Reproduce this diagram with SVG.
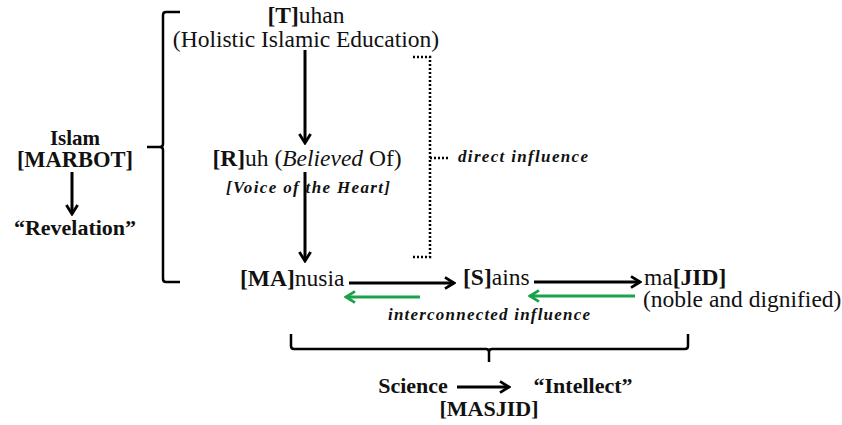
<svg xmlns="http://www.w3.org/2000/svg" width="842" height="425" viewBox="0 0 842 425">
<style>
text{fill:#111;font-family:'Liberation Serif','Times New Roman',serif;}
.n{font-size:23.5px;}
.b{font-weight:bold;}
.bi{font-weight:bold;font-style:italic;font-size:17px;}
.ln{stroke:#000;stroke-width:3;fill:none;}
.gr{stroke:#1aa34a;stroke-width:3;fill:none;}
.br{stroke:#000;stroke-width:2.5;fill:none;}
.dt{stroke:#000;stroke-width:2.5;fill:none;stroke-dasharray:2 2;}
</style>
<defs>
<marker id="ah" viewBox="0 0 12 12" refX="10" refY="6" markerWidth="4.5" markerHeight="4.5" orient="auto" markerUnits="strokeWidth">
<polyline points="2,1 10,6 2,11" fill="none" stroke="#000" stroke-width="2.5"/>
</marker>
<marker id="ag" viewBox="0 0 12 12" refX="10" refY="6" markerWidth="4.5" markerHeight="4.5" orient="auto" markerUnits="strokeWidth">
<polyline points="2,1 10,6 2,11" fill="none" stroke="#1aa34a" stroke-width="2.5"/>
</marker>
</defs>
<g id="connectors">
<line class="ln" x1="305" y1="50" x2="305" y2="143" marker-end="url(#ah)"/>
<line class="ln" x1="305" y1="172" x2="305" y2="261" marker-end="url(#ah)"/>
<line class="ln" x1="72" y1="172" x2="72" y2="214" marker-end="url(#ah)"/>
<line class="ln" x1="349" y1="283" x2="454" y2="283" marker-end="url(#ah)"/>
<line class="ln" x1="534" y1="282" x2="640" y2="282" marker-end="url(#ah)"/>
<line class="gr" x1="420" y1="297" x2="346" y2="297" marker-end="url(#ag)"/>
<line class="gr" x1="635" y1="296" x2="530" y2="296" marker-end="url(#ag)"/>
<line class="ln" x1="457" y1="387" x2="509" y2="387" marker-end="url(#ah)"/>
</g>
<g id="left-bracket">
<path class="br" d="M180,12 H166 Q163,12 163,15 V144 Q163,147 160,147 H147 M160,147 Q163,147 163,150 V279 Q163,282 166,282 H180"/>
</g>
<g id="dotted-bracket">
<path class="dt" d="M413,57 H430 V257 H413 M430,158 H448"/>
</g>
<g id="bottom-brace">
<path class="br" d="M291,334 V346 Q291,349 294,349 H486 Q489,349 489,352 V362 M489,352 Q489,349 492,349 H685 Q688,349 688,346 V334"/>
</g>
<g id="tuhan">
<text class="n" x="306" y="23" text-anchor="middle"><tspan class="b">[T]</tspan>uhan</text>
<text class="n" x="306" y="47" text-anchor="middle">(Holistic Islamic Education)</text>
</g>
<g id="ruh">
<text class="n" x="307" y="166" text-anchor="middle"><tspan class="b">[R]</tspan>uh (<tspan font-style="italic">Believed</tspan> Of)</text>
<text class="bi" x="226" y="193" textLength="164" lengthAdjust="spacing">[Voice of  the Heart]</text>
</g>
<g id="direct-influence">
<text class="bi" x="458" y="162" textLength="130" lengthAdjust="spacing">direct  influence</text>
</g>
<g id="islam">
<text class="b" x="75" y="145" text-anchor="middle" font-size="21">Islam</text>
<text class="b" x="75" y="167" text-anchor="middle" font-size="22.5">[MARBOT]</text>
<text class="b" x="75" y="235" text-anchor="middle" font-size="22">“Revelation”</text>
</g>
<g id="manusia">
<text class="n" x="240" y="286"><tspan class="b">[MA]</tspan>nusia</text>
</g>
<g id="sains">
<text class="n" x="463" y="285"><tspan class="b">[S]</tspan>ains</text>
</g>
<g id="masjid-node">
<text class="n" x="644" y="285">ma<tspan class="b">[JID]</tspan></text>
<text class="n" x="643" y="307">(noble and dignified)</text>
</g>
<g id="interconnected">
<text class="bi" x="388" y="320" textLength="202" lengthAdjust="spacing">interconnected influence</text>
</g>
<g id="science">
<text class="b" x="413" y="393" text-anchor="middle" font-size="22">Science</text>
<text class="b" x="583" y="393" text-anchor="middle" font-size="22">“Intellect”</text>
<text class="b" x="489" y="416" text-anchor="middle" font-size="22">[MASJID]</text>
</g>
</svg>
